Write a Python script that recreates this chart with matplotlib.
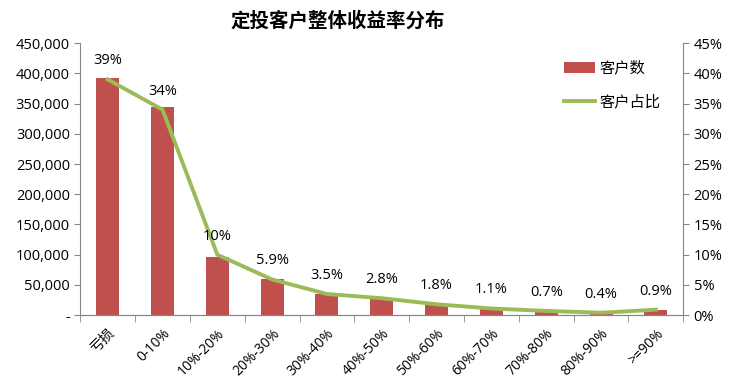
import matplotlib.pyplot as plt
from matplotlib.ticker import FuncFormatter
import numpy as np

plt.rcParams['font.family'] = ['Noto Sans CJK SC', 'DejaVu Sans']

categories = ['亏损', '0-10%', '10%-20%', '20%-30%', '30%-40%', '40%-50%',
              '50%-60%', '60%-70%', '70%-80%', '80%-90%', '>=90%']
customers = [392000, 345000, 97000, 59000, 35500, 28000, 17500, 10500, 6500, 4000, 8500]
share_pct = [39, 34, 10, 5.9, 3.5, 2.8, 1.8, 1.1, 0.7, 0.4, 0.9]
share_labels = ['39%', '34%', '10%', '5.9%', '3.5%', '2.8%', '1.8%', '1.1%', '0.7%', '0.4%', '0.9%']

bar_color = '#C0504D'
line_color = '#9BBB59'
axis_color = '#868686'
latin = ['Open Sans', 'DejaVu Sans']

fig = plt.figure(figsize=(7.3, 3.82), dpi=100)
ax = fig.add_axes([0.11, 0.175, 0.826, 0.712])
x = np.arange(len(categories))

bars = ax.bar(x, customers, width=0.42, color=bar_color, label='客户数', zorder=2)
ax.set_xlim(-0.5, len(categories) - 0.5)
ax.set_ylim(0, 450000)
ax.set_yticks(np.arange(0, 450001, 50000))
ax.yaxis.set_major_formatter(FuncFormatter(lambda v, p: '-' if v == 0 else f'{int(v):,}'))

ax2 = ax.twinx()
ax2.set_ylim(0, 45)
ax2.set_yticks(np.arange(0, 46, 5))
ax2.yaxis.set_major_formatter(FuncFormatter(lambda v, p: f'{int(v)}%'))
line, = ax2.plot(x, share_pct, color=line_color, lw=2.8, label='客户占比', zorder=3)

for xi, v, lab in zip(x, share_pct, share_labels):
    ax2.annotate(lab, (xi, v), xytext=(0, 8), textcoords='offset points',
                 ha='center', va='bottom', fontsize=10.5, family=latin)

ax.set_xticks(x)
ax.set_xticklabels(categories, rotation=45, ha='right', rotation_mode='anchor',
                   fontsize=10)
ax.tick_params(axis='x', which='major', length=0, pad=8)
ax.set_xticks(np.arange(-0.5, len(categories), 1), minor=True)
ax.tick_params(axis='x', which='minor', length=5, color=axis_color, direction='out')

for a in (ax, ax2):
    a.spines['top'].set_visible(False)
    for s in ('left', 'right', 'bottom'):
        a.spines[s].set_color(axis_color)
ax.spines['right'].set_visible(False)
ax2.spines['left'].set_visible(False)

ax.tick_params(axis='y', length=4, color=axis_color, labelsize=10.5)
ax2.tick_params(axis='y', length=4, color=axis_color, labelsize=10.5)
for t in ax.get_yticklabels() + ax2.get_yticklabels():
    t.set_family(latin)
for t in ax.get_xticklabels():
    t.set_family(['Open Sans', 'Noto Sans CJK SC', 'DejaVu Sans'])
ax.get_xticklabels()[0].set_family(['Noto Sans CJK SC', 'DejaVu Sans'])

leg = ax2.legend([bars, line], ['客户数', '客户占比'], loc='upper right',
                 bbox_to_anchor=(0.985, 0.99), frameon=False, fontsize=11,
                 labelspacing=1.1, handlelength=2.0, handletextpad=0.3)

fig.text(0.462, 0.945, '定投客户整体收益率分布', ha='center', va='center',
         fontsize=14, fontweight='bold')

fig.savefig('out.png', dpi=100)
